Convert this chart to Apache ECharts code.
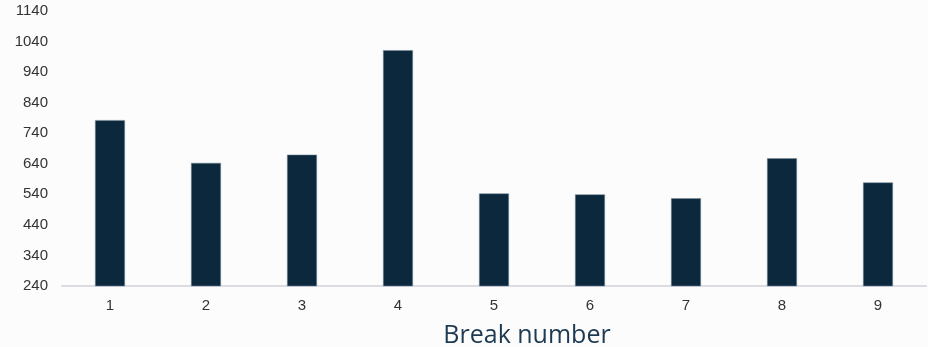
<!DOCTYPE html>
<html>
<head>
<meta charset="utf-8">
<script src="https://cdn.jsdelivr.net/npm/echarts@6/dist/echarts.min.js"></script>
<style>
  html, body { margin: 0; padding: 0; background: #fcfcfc; }
  #chart { width: 928px; height: 347px; }
</style>
</head>
<body>
<div id="chart"></div>
<script>
// Break numbers along the x axis and the measured value for each break
const breakNumbers = ['1', '2', '3', '4', '5', '6', '7', '8', '9'];
const breakValues = [783, 643, 670, 1012, 543, 540, 527, 658, 579];

// Value axis range
const yMin = 240;
const yMax = 1140;
const yStep = 100;

const chart = echarts.init(document.getElementById('chart'), null, { renderer: 'canvas' });

chart.setOption({
  backgroundColor: '#fcfcfc',
  animation: false,
  grid: {
    left: 62, right: 2, top: 11, bottom: 61,
    containLabel: false,
    outerBoundsMode: 'none'
  },
  xAxis: {
    type: 'category',
    data: breakNumbers,
    name: 'Break number',
    nameLocation: 'middle',
    nameGap: 37,
    nameTextStyle: {
      fontFamily: 'Open Sans',
      fontSize: 25,
      color: '#1d3a52',
      padding: [0, 0, 0, 66]
    },
    axisLine: { show: true, lineStyle: { color: '#dcdce2', width: 2 } },
    axisTick: { show: false },
    axisLabel: {
      margin: 12,
      fontFamily: 'Liberation Sans',
      fontSize: 15,
      color: '#333333'
    }
  },
  yAxis: {
    type: 'value',
    min: yMin,
    max: yMax,
    interval: yStep,
    axisLine: { show: false },
    axisTick: { show: false },
    splitLine: { show: false },
    axisLabel: {
      margin: 14,
      fontFamily: 'Liberation Sans',
      fontSize: 15,
      color: '#333333',
      formatter: (v) => String(v)
    }
  },
  series: [{
    type: 'bar',
    data: breakValues,
    barWidth: 30,
    itemStyle: {
      color: '#0b283d',
      borderColor: 'rgba(120,140,155,0.9)',
      borderWidth: 0.6
    }
  }]
});
</script>
</body>
</html>
